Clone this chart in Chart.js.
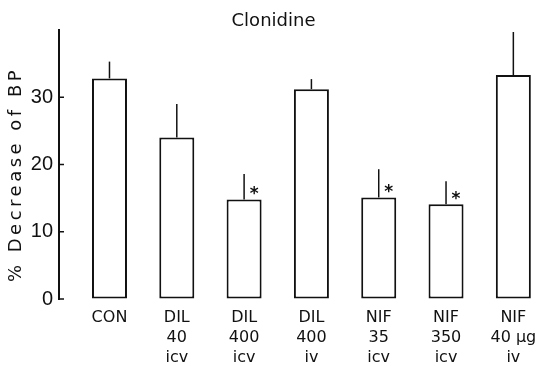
<!DOCTYPE html>
<html>
<head>
<meta charset="utf-8">
<script src="https://cdn.jsdelivr.net/npm/chart.js@4/dist/chart.umd.min.js"></script>
<style>
  html, body { margin: 0; padding: 0; background: #fff; }
</style>
</head>
<body>
<canvas id="chart" width="555" height="366"></canvas>
<script>
// groups (multi-line labels under each bar)
const GROUPS = [
    ['CON'],
    ['DIL', '40', 'icv'],
    ['DIL', '400', 'icv'],
    ['DIL', '400', 'iv'],
    ['NIF', '35', 'icv'],
    ['NIF', '350', 'icv'],
    ['NIF', '40 \u00b5g', 'iv']
];
// % decrease of BP, mean and upper error
const DECREASE = [32.8, 24.0, 14.8, 31.2, 15.1, 14.1, 33.3];
const ERROR = [2.5, 5.0, 3.8, 1.5, 4.2, 3.4, 6.4];
// groups marked with *
const SIGNIF = [false, false, true, false, true, true, false];
const Y_TICKS = [0, 10, 20, 30];

const INK = '#111';

//draws error lines, inward ticks, stars and the y title
const extras = {
    id: 'extras',
    afterDatasetsDraw(chart) {
        const ctx = chart.ctx;
        const y = chart.scales.y;
        const area = chart.chartArea;
        ctx.save();
        ctx.strokeStyle = INK;
        ctx.fillStyle = INK;
        ctx.lineWidth = 1.5;

        // ticks point into the plot
        y.ticks.forEach(t => {
            const py = y.getPixelForValue(t.value);
            ctx.beginPath();
            ctx.moveTo(area.left, py);
            ctx.lineTo(area.left + 5, py);
            ctx.stroke();
        });

        // error bars (upper only) and stars
        const bars = chart.getDatasetMeta(0).data;
        ctx.font = 'bold 17px "DejaVu Sans"';
        ctx.textAlign = 'center';
        ctx.textBaseline = 'middle';
        bars.forEach((bar, i) => {
            const top = y.getPixelForValue(DECREASE[i] + ERROR[i]);
            ctx.beginPath();
            ctx.moveTo(bar.x, bar.y);
            ctx.lineTo(bar.x, top);
            ctx.stroke();
            if (SIGNIF[i]) {
                ctx.fillText('*', bar.x + 10, bar.y - 5);
            }
        });

        // y axis title with the wide letter spacing of the original
        ctx.translate(y.left + 16, (area.top + area.bottom) / 2 + 10);
        ctx.rotate(-Math.PI / 2);
        ctx.font = '18px "DejaVu Sans"';
        ctx.letterSpacing = '3.5px';
        ctx.fillText('% Decrease of BP', 0, 0);
        ctx.restore();
    }
};

const chart = new Chart(document.getElementById('chart'), {
    type: 'bar',
    data: {
        datasets: [{
            data: DECREASE.map((v, i) => ({ x: i, y: v })),
            backgroundColor: '#fff',
            borderColor: INK,
            borderWidth: 2,
            borderSkipped: false,
            barPercentage: 0.52,
            categoryPercentage: 1
        }]
    },
    options: {
        responsive: false,
        animation: false,
        layout: { padding: { left: 0, right: 8, top: 0, bottom: 0 } },
        plugins: {
            legend: { display: false },
            tooltip: { enabled: false },
            title: {
                display: true,
                text: 'Clonidine',
                color: INK,
                font: { family: 'DejaVu Sans', size: 18, weight: 'normal', lineHeight: 1.0 },
                padding: { top: 12, bottom: 0 }
            }
        },
        scales: {
            x: {
                type: 'linear',
                offset: false,
                min: -0.75,
                max: 6.5,
                afterBuildTicks: s => {
                    s.ticks = GROUPS.map((g, i) => ({ value: i }));
                },
                afterFit: s => { s.height = 67; },
                grid: { display: false },
                border: { display: false },
                ticks: {
                    autoSkip: false,
                    maxRotation: 0,
                    padding: 1,
                    color: INK,
                    font: { family: 'DejaVu Sans', size: 16, lineHeight: 1.25 },
                    callback: v => GROUPS[v] || ''
                }
            },
            y: {
                min: 0,
                max: 40,
                afterBuildTicks: s => {
                    s.ticks = Y_TICKS.map(v => ({ value: v }));
                },
                afterFit: s => { s.width = 59; },
                grid: { display: true, drawOnChartArea: false, drawTicks: false },
                border: { display: true, color: INK, width: 2 },
                ticks: {
                    padding: 6,
                    color: INK,
                    font: { family: '"Liberation Sans", Arial, sans-serif', size: 20 }
                }
            }
        }
    },
    plugins: [extras]
});
</script>
</body>
</html>
